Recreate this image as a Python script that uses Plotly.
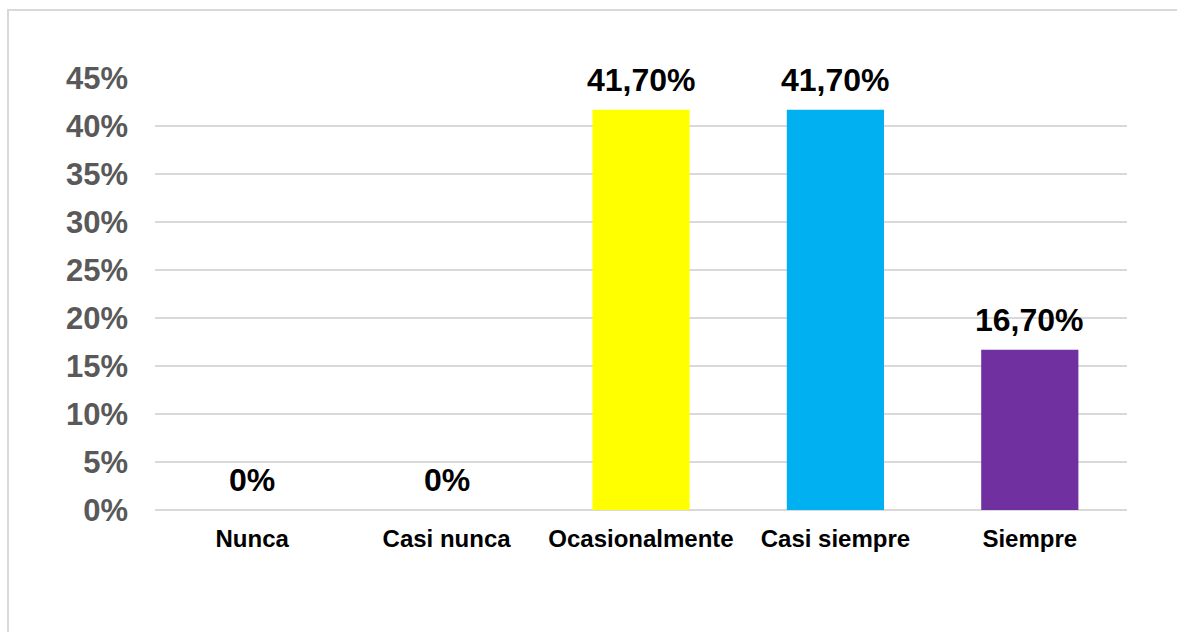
import plotly.graph_objects as go

# Survey response frequencies (%)
categories = ["Nunca", "Casi nunca", "Ocasionalmente", "Casi siempre", "Siempre"]
values = [0, 0, 41.7, 41.7, 16.7]
bar_colors = ["#FFFF00", "#FFFF00", "#FFFF00", "#00B0F0", "#7030A0"]
y_ticks = [0, 5, 10, 15, 20, 25, 30, 35, 40, 45]
y_tick_text = [f"{t}%" for t in y_ticks]


def fmt_label(v):
    if v == 0:
        return "0%"
    return f"{v:.2f}".replace(".", ",") + "%"


labels = [fmt_label(v) for v in values]

W, H = 1177, 632
ML, MR, MT, MB = 155, 50, 78, 122
plot_w = W - ML - MR
plot_h = H - MT - MB
FONT = "Liberation Sans, Arial"

fig = go.Figure()
fig.add_trace(go.Bar(
    x=categories,
    y=values,
    marker=dict(color=bar_colors, line=dict(width=0)),
    hoverinfo="skip",
))

# value labels above each bar
for c, v, t in zip(categories, values, labels):
    fig.add_annotation(
        x=c, y=v, text=t, showarrow=False,
        yanchor="bottom", yshift=10,
        font=dict(family=FONT, size=32, color="#000000", weight="bold"),
    )

# outer chart frame
fig.add_shape(
    type="rect", xref="paper", yref="paper",
    x0=(8 - ML) / plot_w, x1=(W + 20 - ML) / plot_w,
    y0=(MT + plot_h - (H + 20)) / plot_h, y1=(MT + plot_h - 10) / plot_h,
    line=dict(color="#D9D9D9", width=2), fillcolor="rgba(0,0,0,0)", layer="below",
)

fig.update_layout(
    width=W, height=H,
    margin=dict(l=ML, r=MR, t=MT, b=MB, pad=0),
    paper_bgcolor="#FFFFFF", plot_bgcolor="#FFFFFF",
    bargap=0.5,
    showlegend=False,
    xaxis=dict(
        showgrid=False, zeroline=False, showline=False, ticks="",
        tickfont=dict(family=FONT, size=24, color="#000000", weight="bold"),
        ticklabelstandoff=12,
    ),
    yaxis=dict(
        range=[0, 45], tickmode="array", tickvals=y_ticks, ticktext=y_tick_text,
        showgrid=True, gridcolor="#D9D9D9", gridwidth=1.5,
        zeroline=True, zerolinecolor="#D9D9D9", zerolinewidth=1.5,
        showline=False, ticks="",
        tickfont=dict(family=FONT, size=31, color="#595959", weight="bold"),
        ticklabelstandoff=26,
    ),
)

fig.write_html("out.html")
